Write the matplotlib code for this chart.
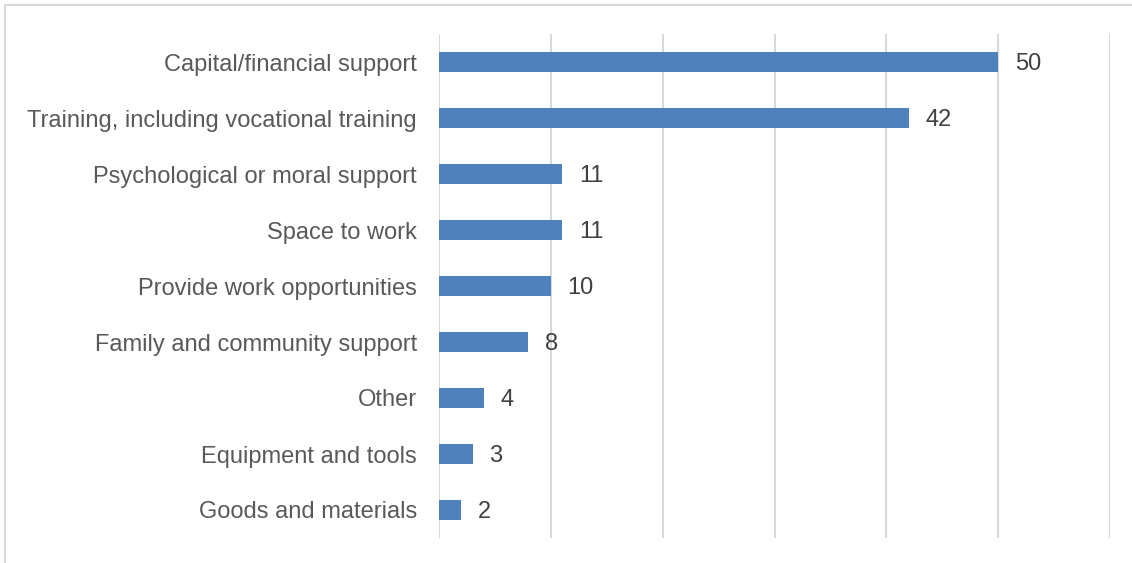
import matplotlib
matplotlib.use("Agg")
import matplotlib.pyplot as plt
from matplotlib.patches import Rectangle

categories = [
    "Capital/financial support",
    "Training, including vocational training",
    "Psychological or moral support",
    "Space to work",
    "Provide work opportunities",
    "Family and community support",
    "Other",
    "Equipment and tools",
    "Goods and materials",
]
values = [50, 42, 11, 11, 10, 8, 4, 3, 2]
x_ticks = [0, 10, 20, 30, 40, 50, 60]

plt.rcParams["font.family"] = ["Liberation Sans", "DejaVu Sans"]

W, H = 1132, 563
fig = plt.figure(figsize=(W / 100, H / 100), dpi=100)
fig.patch.set_facecolor("white")

# light outer frame
fig.add_artist(Rectangle((5 / W, -0.05), 1.2, (H - 5) / H + 0.05,
                         transform=fig.transFigure, fill=False,
                         edgecolor="#d9d9d9", linewidth=1.5))

left, right = 439 / W, 1110 / W
top, bottom = 1 - 34 / H, 1 - 538 / H
ax = fig.add_axes([left, bottom, right - left, top - bottom])

y = list(range(len(categories)))
ax.barh(y, values, height=0.34, color="#4f81bd", zorder=3)
ax.set_ylim(len(categories) - 0.5, -0.5)
ax.set_xlim(0, 60)
ax.set_xticks(x_ticks)
ax.tick_params(axis="x", length=0, labelbottom=False)
ax.set_yticks(y)
ax.set_yticklabels(categories, fontsize=17, color="#595959")
for lbl in ax.get_yticklabels():
    lbl.set_verticalalignment("center_baseline")
ax.tick_params(axis="y", length=0, pad=16)
ax.grid(axis="x", color="#d9d9d9", linewidth=1.5, zorder=0)
for s in ax.spines.values():
    s.set_visible(False)

for yi, v in zip(y, values):
    ax.text(v + 1.5, yi, str(v), va="center_baseline", ha="left",
            fontsize=17, color="#404040")

fig.savefig("out.png", dpi=100)
